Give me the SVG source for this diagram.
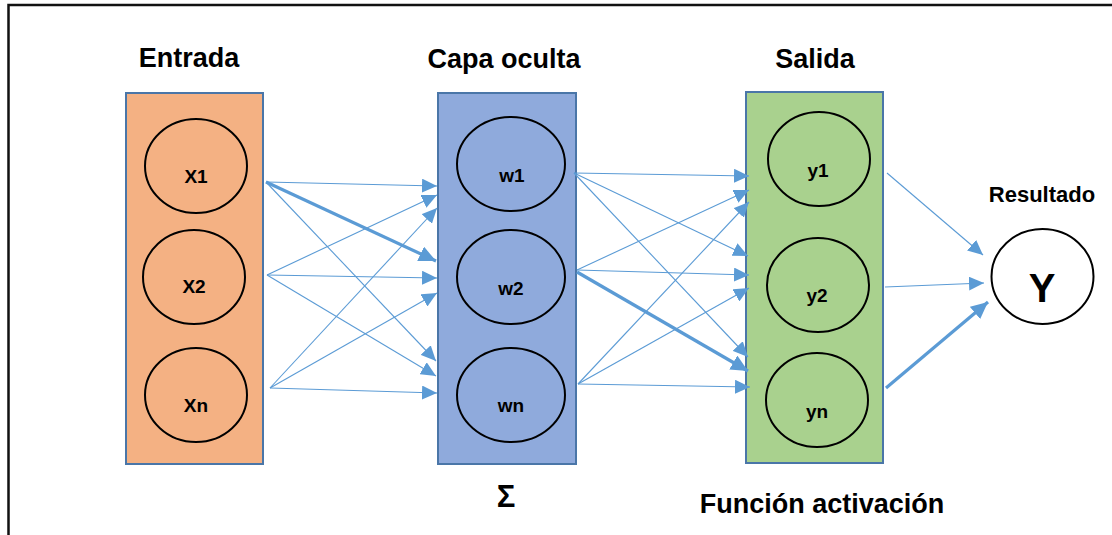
<svg xmlns="http://www.w3.org/2000/svg" width="1112" height="535" viewBox="0 0 1112 535">
  <style>
    .frame { fill: none; stroke: #111; stroke-width: 2.5; }
    .layer { stroke: #4A76A8; stroke-width: 2; }
    .in { fill: #F4B183; }
    .hid { fill: #8FAADC; }
    .out { fill: #A9D18E; }
    .neuron { fill: none; stroke: #000; stroke-width: 2; }
    .title { font-family: "Liberation Sans", Arial, sans-serif; font-weight: bold; font-size: 27px; fill: #000; text-anchor: middle; }
    .lbl { font-family: "Liberation Sans", Arial, sans-serif; font-weight: bold; font-size: 19px; fill: #000; text-anchor: middle; }
    .w { stroke: #5B9BD5; stroke-width: 1.1; fill: none; marker-end: url(#head); }
    .w.strong { stroke-width: 3.2; marker-end: url(#headBig); }
  </style>
  <defs>
    <marker id="head" markerUnits="userSpaceOnUse" markerWidth="16" markerHeight="14" refX="15" refY="7" orient="auto">
      <path d="M0,0 L15,7 L0,14 Z" fill="#5B9BD5"/>
    </marker>
    <marker id="headBig" markerUnits="userSpaceOnUse" markerWidth="18" markerHeight="16" refX="17" refY="8" orient="auto">
      <path d="M0,0 L17,8 L0,16 Z" fill="#5B9BD5"/>
    </marker>
  </defs>

  <!-- outer frame (right and bottom edges fall outside the canvas) -->
  <rect class="frame" x="8.5" y="5" width="1120" height="560"/>

  <!-- column headings -->
  <text class="title" x="189" y="67">Entrada</text>
  <text class="title" x="504" y="68">Capa oculta</text>
  <text class="title" x="815" y="68">Salida</text>
  <text class="title" x="1042" y="202" style="font-size:22px">Resultado</text>
  <text class="title" x="506" y="507" style="font-size:31px">Σ</text>
  <text class="title" x="822" y="513">Función activación</text>

  <!-- input layer -->
  <g id="input-layer">
    <rect class="layer in" x="126" y="93" width="137" height="371"/>
    <g id="x1"><ellipse class="neuron" cx="196" cy="166" rx="51" ry="47"/><text class="lbl" x="196" y="183">X1</text></g>
    <g id="x2"><ellipse class="neuron" cx="194" cy="277" rx="51" ry="47"/><text class="lbl" x="194" y="293">X2</text></g>
    <g id="xn"><ellipse class="neuron" cx="196" cy="395" rx="51" ry="47"/><text class="lbl" x="196" y="412">Xn</text></g>
  </g>

  <!-- hidden layer -->
  <g id="hidden-layer">
    <rect class="layer hid" x="438" y="93" width="138" height="371"/>
    <g id="w1"><ellipse class="neuron" cx="511" cy="164" rx="54" ry="47"/><text class="lbl" x="512" y="182">w1</text></g>
    <g id="w2"><ellipse class="neuron" cx="511" cy="277" rx="54" ry="47"/><text class="lbl" x="511" y="295">w2</text></g>
    <g id="wn"><ellipse class="neuron" cx="511" cy="395" rx="54" ry="47"/><text class="lbl" x="511" y="412">wn</text></g>
  </g>

  <!-- output layer -->
  <g id="output-layer">
    <rect class="layer out" x="746" y="92" width="137" height="371"/>
    <g id="y1"><ellipse class="neuron" cx="819" cy="159" rx="51" ry="47"/><text class="lbl" x="818" y="177">y1</text></g>
    <g id="y2"><ellipse class="neuron" cx="818" cy="285" rx="51" ry="47"/><text class="lbl" x="817" y="302">y2</text></g>
    <g id="yn"><ellipse class="neuron" cx="817" cy="400" rx="51" ry="47"/><text class="lbl" x="817" y="418">yn</text></g>
  </g>

  <!-- result -->
  <g id="result">
    <ellipse cx="1042.5" cy="276.5" rx="51" ry="47.5" fill="#fff" stroke="#000" stroke-width="2"/>
    <text class="lbl" x="1042" y="302" style="font-size:40px">Y</text>
  </g>

  <!-- weighted connections -->
  <g id="connectors">
    <!-- input to hidden -->
    <line class="w" x1="266" y1="182" x2="437" y2="186"/>
    <line class="w strong" x1="266" y1="182" x2="436" y2="261"/>
    <line class="w" x1="266" y1="182" x2="436" y2="361"/>
    <line class="w" x1="267" y1="275" x2="437" y2="195"/>
    <line class="w" x1="267" y1="275" x2="437" y2="278"/>
    <line class="w" x1="267" y1="275" x2="436" y2="376"/>
    <line class="w" x1="270" y1="388" x2="437" y2="208"/>
    <line class="w" x1="270" y1="388" x2="437" y2="293"/>
    <line class="w" x1="270" y1="388" x2="437" y2="393"/>
    <!-- hidden to output -->
    <line class="w" x1="574" y1="173" x2="749" y2="176"/>
    <line class="w" x1="574" y1="173" x2="748" y2="256"/>
    <line class="w" x1="574" y1="173" x2="748" y2="357"/>
    <line class="w" x1="577" y1="270" x2="749" y2="190"/>
    <line class="w" x1="577" y1="270" x2="749" y2="275"/>
    <line class="w strong" x1="577" y1="272" x2="748" y2="371"/>
    <line class="w" x1="578" y1="384" x2="749" y2="202"/>
    <line class="w" x1="578" y1="384" x2="749" y2="288"/>
    <line class="w" x1="578" y1="384" x2="750" y2="387"/>
    <!-- output to result -->
    <line class="w" x1="887" y1="173" x2="983" y2="255"/>
    <line class="w" x1="885" y1="287" x2="984" y2="283"/>
    <line class="w strong" x1="886" y1="388" x2="988" y2="302"/>
  </g>
</svg>
